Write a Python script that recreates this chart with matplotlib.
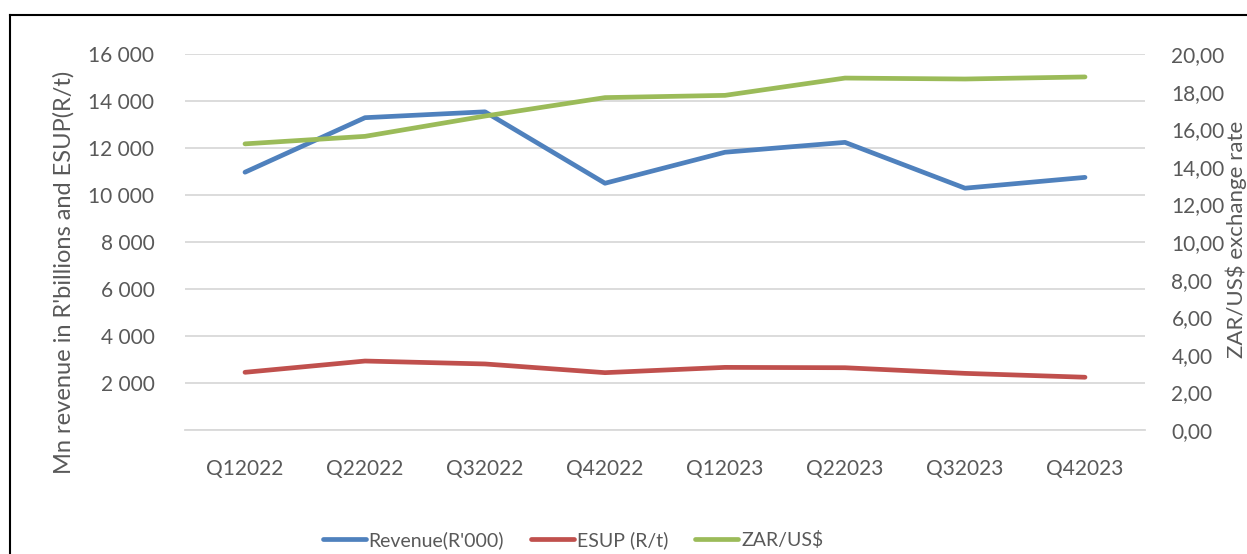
import matplotlib
matplotlib.use('Agg')
import matplotlib.pyplot as plt
from matplotlib.ticker import FuncFormatter, MultipleLocator
from matplotlib.lines import Line2D

plt.rcParams['font.family'] = ['Lato', 'DejaVu Sans']

# data
quarters = ['Q12022', 'Q22022', 'Q32022', 'Q42022', 'Q12023', 'Q22023', 'Q32023', 'Q42023']
revenue = [10970, 13290, 13540, 10500, 11820, 12240, 10290, 10750]
esup = [2455, 2935, 2810, 2440, 2665, 2650, 2410, 2245]
zar_usd = [15.22, 15.62, 16.70, 17.68, 17.80, 18.72, 18.67, 18.78]

text_col = '#595959'
grid_col = '#D9D9D9'
fs = 15

fig = plt.figure(figsize=(12.47, 5.54), dpi=100)
ax = fig.add_axes([185/1247, 1 - 430/554, 960/1247, 376/554])
ax2 = ax.twinx()

x = list(range(len(quarters)))
ax.plot(x, revenue, color='#4F81BD', lw=3.4, solid_capstyle='round', zorder=3)
ax.plot(x, esup, color='#C0504D', lw=3.4, solid_capstyle='round', zorder=3)
ax2.plot(x, zar_usd, color='#9BBB59', lw=3.4, solid_capstyle='round', zorder=3)

ax.set_xlim(-0.5, len(quarters) - 0.5)
ax.set_ylim(0, 16000)
ax2.set_ylim(0, 20)

ax.yaxis.set_major_locator(MultipleLocator(2000))
ax.yaxis.set_major_formatter(FuncFormatter(lambda v, p: '' if v == 0 else f'{int(v):,}'.replace(',', ' ')))
ax2.yaxis.set_major_locator(MultipleLocator(2))
ax2.yaxis.set_major_formatter(FuncFormatter(lambda v, p: f'{v:.2f}'.replace('.', ',')))

ax.set_xticks(x)
ax.set_xticklabels(quarters)

ax.grid(axis='y', color=grid_col, lw=1.3)
ax.set_axisbelow(True)
for a in (ax, ax2):
    for s in a.spines.values():
        s.set_visible(False)
    a.tick_params(length=0, labelsize=fs, colors=text_col)
ax.tick_params(axis='y', pad=22)
ax2.tick_params(axis='y', pad=19)
ax.tick_params(axis='x', pad=21)
ax.spines['bottom'].set_visible(True)
ax.spines['bottom'].set_color(grid_col)
ax.spines['bottom'].set_linewidth(1.3)

fig.text(64/1247, 1 - 272/554, "Mn revenue in R'billions and ESUP(R/t)", rotation=90,
         ha='center', va='center', fontsize=17, color=text_col)
fig.text(1236/1247, 1 - 239/554, 'ZAR/US$ exchange rate', rotation=90,
         ha='center', va='center', fontsize=16, color=text_col)

handles = [Line2D([], [], color='#4F81BD', lw=3.4, solid_capstyle='round'),
           Line2D([], [], color='#C0504D', lw=3.4, solid_capstyle='round'),
           Line2D([], [], color='#9BBB59', lw=3.4, solid_capstyle='round')]
labels = ["Revenue(R'000)", 'ESUP (R/t)', 'ZAR/US$']
leg = fig.legend(handles, labels, loc='center', bbox_to_anchor=(573/1247, 1 - 540/554), ncol=3,
                 frameon=False, fontsize=14, handlelength=2.2, handletextpad=0.15, columnspacing=1.4,
                 labelcolor=text_col)

# chart border (partly cut off in the reference)
fig.add_artist(Line2D([10/1247, 10/1247], [0, 1 - 14.7/554], color='black', lw=1.5))
fig.add_artist(Line2D([10/1247, 1], [1 - 14.7/554, 1 - 14.7/554], color='black', lw=1.5))

fig.savefig('out.png', dpi=100)
